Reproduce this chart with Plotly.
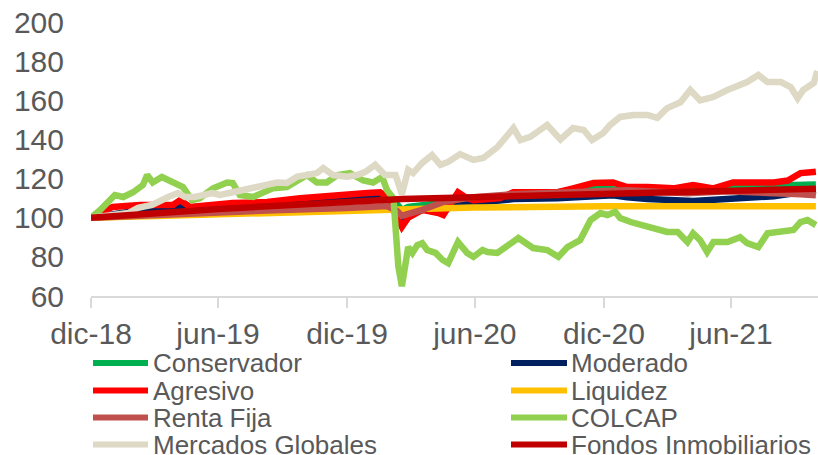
import plotly.graph_objects as go

# ---------------- data ----------------
tick_vals_x = ["2018-12-31", "2019-06-30", "2019-12-31", "2020-06-30", "2020-12-31", "2021-06-30"]
tick_text_x = ["dic-18", "jun-19", "dic-19", "jun-20", "dic-20", "jun-21"]
tick_vals_y = [60, 80, 100, 120, 140, 160, 180, 200]

conservador_dates = ["2018-12-31", "2019-03-21", "2019-05-07", "2019-05-21", "2019-08-19", "2019-10-25",
                     "2019-12-11", "2020-02-16", "2020-03-06", "2020-03-18", "2020-03-27", "2020-04-16",
                     "2020-05-16", "2020-06-28", "2020-08-24", "2020-10-26", "2020-12-16", "2021-01-13",
                     "2021-03-03", "2021-05-07", "2021-06-05", "2021-07-13", "2021-09-09", "2021-10-29"]
conservador_vals = [100, 103.5, 105, 104.5, 106, 108, 109, 110.5, 109, 104, 105.5, 106.5,
                    107.5, 109.5, 112, 113, 115, 114.5, 113.5, 114, 114.5, 116, 116.5, 117]

moderado_dates = ["2018-12-31", "2019-02-15", "2019-03-21", "2019-05-07", "2019-05-21", "2019-07-21",
                  "2019-08-19", "2019-10-25", "2019-12-11", "2020-02-16", "2020-02-28", "2020-03-13",
                  "2020-03-18", "2020-03-27", "2020-04-16", "2020-05-16", "2020-06-06", "2020-06-28",
                  "2020-08-24", "2020-10-26", "2020-12-16", "2021-01-13", "2021-02-02", "2021-03-03",
                  "2021-05-07", "2021-06-05", "2021-07-13", "2021-08-30", "2021-10-07", "2021-10-29"]
moderado_vals = [100, 103, 104.5, 106, 104, 105.5, 106, 108, 109.5, 111, 109.5, 101,
                 98.5, 101, 104, 104.5, 107, 107.5, 109.5, 110, 111, 111.5, 110.5, 109.5,
                 108.5, 109, 109.5, 111, 113, 114]

agresivo_dates = ["2018-12-31", "2019-01-31", "2019-03-11", "2019-04-27", "2019-05-07", "2019-05-21",
                  "2019-07-21", "2019-08-19", "2019-09-08", "2019-10-25", "2019-12-11", "2020-01-29",
                  "2020-02-16", "2020-02-26", "2020-03-11", "2020-03-18", "2020-03-27", "2020-04-16",
                  "2020-05-09", "2020-05-16", "2020-06-06", "2020-06-16", "2020-06-28", "2020-08-05",
                  "2020-08-24", "2020-09-21", "2020-10-26", "2020-11-17", "2020-12-16", "2021-01-13",
                  "2021-02-02", "2021-03-03", "2021-04-09", "2021-05-07", "2021-06-05", "2021-07-03",
                  "2021-08-01", "2021-08-30", "2021-09-19", "2021-10-07", "2021-10-26", "2021-10-29"]
agresivo_vals = [100, 105.5, 106.5, 106.5, 109, 105.5,
                 107.5, 107.5, 108, 110, 111.6, 112.6,
                 113, 110.6, 100.3, 95.3, 100, 104,
                 102.4, 101.4, 113, 110.6, 109, 110,
                 113, 113, 113, 115, 117.7, 118,
                 115.7, 115.7, 115, 116.7, 115, 118,
                 117.7, 118, 119, 122.8, 123.4, 123.5]

liquidez_dates = ["2018-12-31", "2019-06-30", "2019-12-31", "2020-03-18", "2020-06-28", "2020-12-30",
                  "2021-06-30", "2021-10-29"]
liquidez_vals = [100, 101.8, 103.4, 104, 105.2, 105.8, 106, 105.9]

renta_fija_dates = ["2018-12-31", "2019-03-31", "2019-06-30", "2019-09-30", "2019-12-31", "2020-02-26",
                    "2020-03-11", "2020-03-18", "2020-03-27", "2020-04-16", "2020-05-16", "2020-06-28",
                    "2020-08-24", "2020-10-26", "2020-12-30", "2021-02-02", "2021-03-31", "2021-04-29",
                    "2021-06-25", "2021-08-30", "2021-10-07", "2021-10-29"]
renta_fija_vals = [100, 101.5, 102.8, 104, 105, 106, 103.5, 101, 102, 104, 108, 110.5,
                   112, 113, 114, 114, 113, 112.5, 113.5, 113, 112, 111.5]

colcap_dates = ["2018-12-31", "2019-01-13", "2019-02-03", "2019-02-15", "2019-03-01", "2019-03-15",
                "2019-03-21", "2019-03-29", "2019-04-11", "2019-04-27", "2019-05-11", "2019-05-24",
                "2019-06-04", "2019-06-23", "2019-07-13", "2019-07-21", "2019-07-31", "2019-08-19",
                "2019-09-02", "2019-09-16", "2019-10-06", "2019-11-04", "2019-11-18", "2019-12-02",
                "2019-12-17", "2020-01-04", "2020-01-23", "2020-02-06", "2020-02-19", "2020-02-26",
                "2020-03-06", "2020-03-09", "2020-03-13", "2020-03-18", "2020-03-23", "2020-03-27",
                "2020-04-02", "2020-04-09", "2020-04-16", "2020-04-23", "2020-05-05", "2020-05-15",
                "2020-05-23", "2020-06-02", "2020-06-06", "2020-06-19", "2020-06-28", "2020-07-11",
                "2020-07-18", "2020-08-01", "2020-08-15", "2020-08-31", "2020-09-21", "2020-10-11",
                "2020-10-27", "2020-11-09", "2020-11-27", "2020-12-12", "2020-12-26", "2021-01-05",
                "2021-01-16", "2021-01-23", "2021-02-07", "2021-03-03", "2021-03-17", "2021-03-31",
                "2021-04-15", "2021-04-29", "2021-05-07", "2021-05-17", "2021-05-27", "2021-06-05",
                "2021-06-25", "2021-07-13", "2021-07-23", "2021-08-08", "2021-08-21", "2021-09-09",
                "2021-09-27", "2021-10-07", "2021-10-17", "2021-10-29"]
colcap_vals = [100, 103.9, 111.6, 110.6, 113, 116.7,
               121.8, 118, 120.8, 118, 115.7, 109,
               110, 115, 118, 117.7, 111.6, 110.6,
               113, 115, 115.7, 121.8, 118, 118,
               121.8, 122.8, 119, 118, 120.8, 114,
               110, 92, 75, 65, 78.4, 85,
               82, 86, 87, 83.5, 82, 78.4,
               76.8, 85, 87.6, 82, 80, 83.5,
               82.5, 82, 86, 89.6, 84.5, 83.5,
               80, 85, 88.6, 98.8, 102.4, 101.4,
               103, 99.8, 97.8, 95.3, 93.7, 92.7,
               92.7, 87.6, 92, 88.6, 82.5, 87.6,
               87.6, 90, 87, 85, 92, 92.7,
               93.7, 97.8, 98.8, 96.2]

globales_dates = ["2018-12-31", "2019-01-20", "2019-02-22", "2019-03-08", "2019-03-28", "2019-04-20",
                  "2019-05-04", "2019-05-14", "2019-05-28", "2019-06-22", "2019-07-03", "2019-07-21",
                  "2019-08-15", "2019-08-29", "2019-09-22", "2019-10-06", "2019-10-21", "2019-11-04",
                  "2019-11-18", "2019-11-27", "2019-12-11", "2019-12-31", "2020-01-14", "2020-01-26",
                  "2020-02-09", "2020-02-23", "2020-03-09", "2020-03-18", "2020-03-23", "2020-03-27",
                  "2020-04-03", "2020-04-16", "2020-04-30", "2020-05-12", "2020-05-23", "2020-06-09",
                  "2020-06-28", "2020-07-12", "2020-08-01", "2020-08-24", "2020-09-03", "2020-09-17",
                  "2020-10-11", "2020-10-30", "2020-11-17", "2020-12-02", "2020-12-14", "2020-12-30",
                  "2021-01-09", "2021-01-23", "2021-02-11", "2021-03-03", "2021-03-17", "2021-03-31",
                  "2021-04-19", "2021-05-03", "2021-05-17", "2021-06-05", "2021-06-25", "2021-07-23",
                  "2021-08-08", "2021-08-21", "2021-09-09", "2021-09-23", "2021-10-03", "2021-10-11",
                  "2021-10-26", "2021-10-31"]
globales_vals = [100, 101, 102.4, 105, 106.5, 110.6,
                 112.6, 110.6, 110.6, 112.6, 111.6, 113,
                 115, 116.7, 118, 117.7, 121, 121.8,
                 122.8, 125.4, 121.8, 121, 121.8, 123.4,
                 127, 121.8, 121.8, 112, 117.7, 124.4,
                 122.8, 128, 132, 127, 128.5, 132.5,
                 129.5, 130.5, 136, 145.8, 139.7, 141.3,
                 147.4, 140, 145.8, 144.8, 139.7, 143.3,
                 147.4, 151.5, 152.5, 152.5, 151, 156,
                 159, 165.3, 160, 161.7, 165.3, 169.3,
                 172.9, 169.3, 169.3, 166.8, 161, 165.3,
                 168.8, 175]

fondos_dates = ["2018-12-31", "2019-06-30", "2019-12-31", "2020-03-18", "2020-06-30", "2020-12-31",
                "2021-06-30", "2021-10-29"]
fondos_vals = [100, 104.5, 108, 109.5, 110.5, 112, 113.5, 114.8]

series_names = ["Conservador", "Moderado", "Agresivo", "Liquidez", "Renta Fija", "COLCAP",
                "Mercados Globales", "Fondos Inmobiliarios"]
series_dates = [conservador_dates, moderado_dates, agresivo_dates, liquidez_dates, renta_fija_dates,
                colcap_dates, globales_dates, fondos_dates]
series_vals = [conservador_vals, moderado_vals, agresivo_vals, liquidez_vals, renta_fija_vals,
               colcap_vals, globales_vals, fondos_vals]
series_colors = ["#00B050", "#002060", "#FF0000", "#FFC000", "#C0504D", "#92D050", "#DDD9C4", "#C00000"]

# ---------------- layout constants ----------------
W, H = 818, 455
ML, MR, MT, MB = 91, 0, 22, 159
PW, PH = W - ML - MR, H - MT - MB
FONT = "Liberation Sans, Arial, sans-serif"
TXT = "#595959"
AXIS = "#D9D9D9"


def fx(px):
    return (px - ML) / PW


def fy(py):
    return (H - MB - py) / PH


fig = go.Figure()
for name, d, v, c in zip(series_names, series_dates, series_vals, series_colors):
    fig.add_trace(go.Scatter(x=d, y=v, name=name, mode="lines",
                             line=dict(color=c, width=6.5), showlegend=False))

# manual legend: two columns, four rows
col_line_x = [(93, 148), (511, 567)]
col_text_x = [151, 569]
row_y = [363, 390.5, 417.5, 444.5]
shapes, annotations = [], []
for i, (name, c) in enumerate(zip(series_names, series_colors)):
    col, row = i % 2, i // 2
    x0, x1 = col_line_x[col]
    y = row_y[row]
    shapes.append(dict(type="line", xref="paper", yref="paper",
                       x0=fx(x0), x1=fx(x1), y0=fy(y), y1=fy(y),
                       line=dict(color=c, width=6)))
    annotations.append(dict(xref="paper", yref="paper", x=fx(col_text_x[col]), y=fy(y),
                            text=name, showarrow=False, xanchor="left", yanchor="middle",
                            font=dict(family=FONT, size=26, color=TXT)))

fig.update_layout(
    width=W, height=H,
    margin=dict(l=ML, r=MR, t=MT, b=MB, autoexpand=False),
    paper_bgcolor="white", plot_bgcolor="white",
    font=dict(family=FONT, color=TXT),
    shapes=shapes, annotations=annotations,
    showlegend=False,
)
fig.update_xaxes(
    type="date", range=["2018-12-31", "2021-11-01"],
    tickvals=tick_vals_x, ticktext=tick_text_x,
    showgrid=False, zeroline=False, automargin=False,
    showline=True, linecolor=AXIS, linewidth=1.5,
    ticks="outside", ticklen=10, tickcolor=AXIS, tickwidth=1.5,
    tickfont=dict(family=FONT, size=30, color=TXT),
    ticklabelstandoff=0,
)
fig.update_yaxes(
    range=[60, 200], tickvals=tick_vals_y, automargin=False,
    showgrid=False, zeroline=False, showline=False, ticks="",
    tickfont=dict(family=FONT, size=30, color=TXT),
    ticklabelstandoff=26,
)

fig.write_html("out.html", config={"displayModeBar": False},
               post_script="document.body.style.margin='0px';")
